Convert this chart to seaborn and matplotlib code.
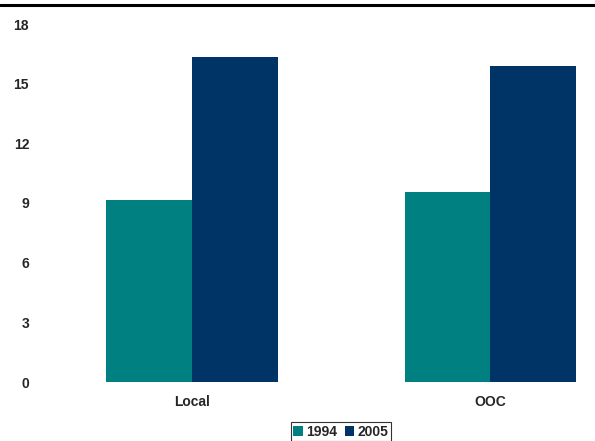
import matplotlib
matplotlib.use("Agg")
import matplotlib.pyplot as plt
import seaborn as sns
import pandas as pd
from matplotlib.lines import Line2D

categories = ["Local", "OOC"]
years = ["1994", "2005"]
values_1994 = [9.15, 9.55]
values_2005 = [16.35, 15.9]
yticks = [0, 3, 6, 9, 12, 15, 18]

df = pd.DataFrame({
    "cat": categories * 2,
    "year": [years[0]] * 2 + [years[1]] * 2,
    "value": values_1994 + values_2005,
})

sns.set_style("white")
plt.rcParams['font.family'] = ['Liberation Sans', 'DejaVu Sans']

fig = plt.figure(figsize=(5.95, 4.41), dpi=100)
ax = fig.add_axes([43/595, (441-382)/441, (595-43)/595, (382-24)/441])

sns.barplot(data=df, x="cat", y="value", hue="year", order=categories,
            hue_order=years, palette=["#008080", "#003366"], width=0.574,
            saturation=1, ax=ax, legend=True, linewidth=0, edgecolor="none")

ax.set_ylim(0, 18)
ax.set_xlim(-0.5, 1.352)
ax.set_yticks(yticks)
ax.set_yticklabels([str(t) for t in yticks], fontweight="bold", fontsize=10)
ax.set_xticklabels(categories, fontweight="bold", fontsize=10)
ax.tick_params(axis="x", length=0, pad=9)
ax.tick_params(axis="y", length=0, pad=10)
ax.set_xlabel("")
ax.set_ylabel("")
for s in ax.spines.values():
    s.set_visible(False)

leg = ax.legend(loc="center", bbox_to_anchor=(341/595, 1 - 431.5/441),
                bbox_transform=fig.transFigure, ncol=2, frameon=True,
                fancybox=False, edgecolor="black", handlelength=0.7,
                handleheight=0.7, handletextpad=0.25, columnspacing=0.5,
                borderpad=0.15, borderaxespad=0, prop={"weight": "bold", "size": 10})
leg.get_frame().set_linewidth(0.8)

fig.add_artist(Line2D([0, 1], [1 - 5/441, 1 - 5/441], transform=fig.transFigure,
                      color="black", linewidth=2.2))

fig.savefig("out.png", dpi=100)
